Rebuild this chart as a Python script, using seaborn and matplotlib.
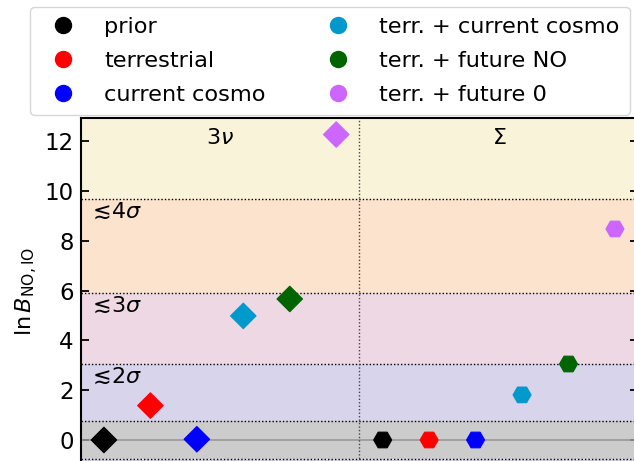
import numpy as np
import pandas as pd
import matplotlib
matplotlib.use("Agg")
import matplotlib.pyplot as plt
import seaborn as sns
from matplotlib.lines import Line2D

# ---- data ----
labels = ['prior', 'terrestrial', 'current cosmo',
          'terr. + current cosmo', 'terr. + future NO', 'terr. + future 0']
colors = ['#000000', '#ff0000', '#0000ff', '#0099cc', '#006400', '#cc66ff']
x_3nu = [0, 1, 2, 3, 4, 5]
lnB_3nu = [0.0, 1.38, 0.03, 4.98, 5.66, 12.26]
x_sigma = [6, 7, 8, 9, 10, 11]
lnB_sigma = [0.0, 0.0, 0.0, 1.81, 3.05, 8.47]
thresholds = [0.766, 3.044, 5.912, 9.667]          # 1σ..4σ in ln B
sigma_labels = [r'$\lesssim\!2\sigma$', r'$\lesssim\!3\sigma$', r'$\lesssim\!4\sigma$']
band_colors = ['#cccccc', '#d8d4ec', '#eed8e4', '#fbe3cd', '#f9f3da']
yticks = [0, 2, 4, 6, 8, 10, 12]
panel_labels = [r'$3\nu$', r'$\Sigma$']

sns.set_theme(style='ticks')
plt.rcParams['font.family'] = ['DejaVu Sans']
plt.rcParams['mathtext.fontset'] = 'dejavusans'
for k in ['text.color', 'axes.labelcolor', 'xtick.color', 'ytick.color', 'axes.edgecolor']:
    plt.rcParams[k] = 'black'

W, H = 634, 461
fig = plt.figure(figsize=(W / 100, H / 100), dpi=100)
# axes extends slightly beyond figure (cropped like the reference)
left_px, right_px = 80.7, 638.2
top_px, bot_px = 118.1, 464.9
ax = fig.add_axes([left_px / W, 1 - bot_px / H, (right_px - left_px) / W, (bot_px - top_px) / H])

ymin, ymax = -1.0, 12.92
xmin, xmax = -0.5, 11.5

# bands: below -1σ (lavender), gray, lavender, pink, peach, cream
ax.axhspan(ymin - 1, -thresholds[0], color=band_colors[1], lw=0, zorder=0)
ax.axhspan(-thresholds[0], thresholds[0], color=band_colors[0], lw=0, zorder=0)
bounds = thresholds + [ymax + 1]
for i in range(4):
    ax.axhspan(bounds[i], bounds[i + 1], color=band_colors[i + 1], lw=0, zorder=0)
for t in [-thresholds[0]] + thresholds:
    ax.axhline(t, color='black', lw=1.0, ls=(0, (1, 1.5)), zorder=1)
ax.axhline(0, color='#999999', lw=1.2, zorder=1)
ax.axvline(5.5, color='#444444', lw=1.0, ls=(0, (1, 1.5)), zorder=1)

pal = dict(zip(labels, colors))
df3 = pd.DataFrame({'x': x_3nu, 'y': lnB_3nu, 'case': labels})
dfs = pd.DataFrame({'x': x_sigma, 'y': lnB_sigma, 'case': labels})
sns.scatterplot(data=df3, x='x', y='y', hue='case', palette=pal, marker='D',
                s=13 ** 2, linewidth=0.8, edgecolor=None, ax=ax, legend=False, zorder=3)
sns.scatterplot(data=dfs, x='x', y='y', hue='case', palette=pal, marker='H',
                s=13 ** 2, linewidth=0.8, edgecolor=None, ax=ax, legend=False, zorder=3)
for coll in ax.collections:
    coll.set_edgecolor(coll.get_facecolor())

for t, lab in zip(thresholds[1:], sigma_labels):
    ax.text(-0.35, t - 0.5, lab, fontsize=16, va='center', ha='left')
ax.text(2.5, 12.12, panel_labels[0], fontsize=16, va='center', ha='center')
ax.text(8.5, 12.12, panel_labels[1], fontsize=16, va='center', ha='center')

ax.set_xlim(xmin, xmax)
ax.set_ylim(ymin, ymax)
ax.set_yticks(yticks)
ax.set_yticklabels([str(v) for v in yticks])
ax.set_xticks([])
ax.tick_params(axis='y', direction='in', left=True, right=True, length=5.5, width=1.3,
               labelsize=16.5, pad=5, colors='black')
ax.set_xlabel('')
ax.set_ylabel(r'$\ln B_{\rm NO,IO}$', fontsize=16, labelpad=3)
for sp in ax.spines.values():
    sp.set_linewidth(1.5)
    sp.set_color('black')
    sp.set_visible(True)

handles = [Line2D([], [], ls='none', marker='o', markersize=11.5, color=c, mec=c) for c in colors]
fig.legend(handles, labels, loc='lower center', bbox_to_anchor=(0.5205, 1 - 115 / H),
           borderaxespad=0, ncol=2, fontsize=16.2, frameon=True, columnspacing=2.2,
           handletextpad=0.85, borderpad=0.45, labelspacing=0.62, framealpha=0.8,
           edgecolor='#cccccc')

fig.savefig('out.png', dpi=100)
